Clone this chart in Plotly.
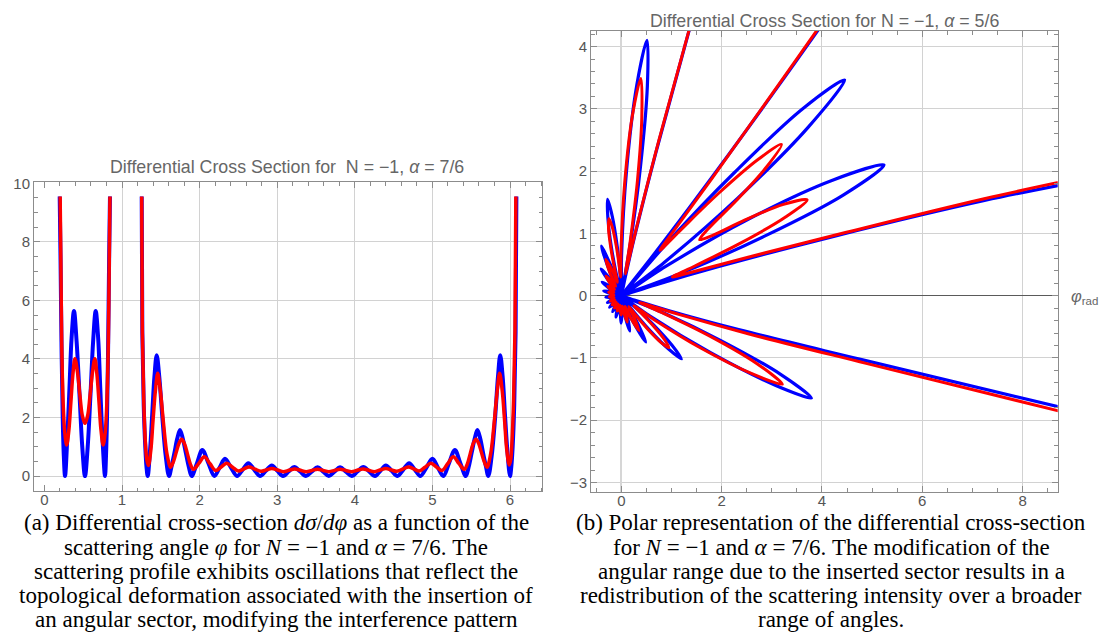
import numpy as np
import plotly.graph_objects as go

# ---------------- data (dσ/dφ vs φ) ----------------
# segment 1 (before the divergence gap) and segment 2 (after it)
blue_phi_1 = [0.197, 0.208, 0.221, 0.236, 0.250, 0.266, 0.295, 0.323, 0.350, 0.381,
              0.415, 0.452, 0.488, 0.523, 0.558, 0.594, 0.628, 0.661, 0.693, 0.720,
              0.748, 0.781, 0.794, 0.807, 0.821, 0.834, 0.845]
blue_val_1 = [9.55, 7.4, 4.4, 2.0, 0.7, 0.0, 1.3, 3.0, 4.7, 5.64,
              4.6, 2.8, 1.0, 0.0, 1.0, 2.8, 4.6, 5.64, 4.7, 3.0,
              1.3, 0.0, 0.7, 2.0, 4.4, 7.4, 9.55]

red_phi_1 = [0.203, 0.212, 0.223, 0.240, 0.262, 0.287, 0.315, 0.342, 0.368, 0.394,
             0.426, 0.458, 0.490, 0.523, 0.556, 0.588, 0.620, 0.650, 0.676, 0.703,
             0.730, 0.758, 0.784, 0.806, 0.824, 0.836, 0.845]
red_val_1 = [9.55, 7.4, 4.6, 2.6, 1.5, 1.06, 1.55, 2.55, 3.5, 4.01,
             3.55, 2.75, 2.05, 1.80, 2.05, 2.75, 3.55, 4.01, 3.5, 2.55,
             1.55, 1.06, 1.5, 2.6, 4.6, 7.4, 9.55]

blue_phi_2 = [1.254, 1.262, 1.280, 1.300, 1.316, 1.331,
              1.362, 1.389, 1.418, 1.447, 1.480, 1.520, 1.565, 1.606,
              1.640, 1.676, 1.712, 1.747, 1.783, 1.822, 1.862, 1.898,
              1.966, 2.035, 2.112, 2.190, 2.258, 2.327, 2.404, 2.482,
              2.555, 2.628, 2.703, 2.778, 2.854, 2.930, 3.003, 3.075,
              3.148, 3.220, 3.295, 3.370, 3.445, 3.520, 3.593, 3.665,
              3.738, 3.810, 3.885, 3.960, 4.035, 4.110, 4.185, 4.260,
              4.330, 4.400, 4.475, 4.550, 4.625, 4.700, 4.773, 4.845,
              4.923, 5.000, 5.070, 5.140, 5.215, 5.290, 5.360, 5.430,
              5.466, 5.506, 5.545, 5.580, 5.616, 5.652, 5.688, 5.720,
              5.762, 5.808, 5.845, 5.874, 5.905, 5.935, 5.965, 6.000,
              6.016, 6.034, 6.054, 6.072, 6.082]
blue_val_2 = [9.55, 4.9, 2.4, 1.0, 0.3, 0.0,
              0.9, 2.1, 3.4, 4.13, 3.4, 2.0, 0.65, 0.0,
              0.35, 0.8, 1.28, 1.57, 1.28, 0.8, 0.3, 0.0,
              0.44, 0.89, 0.45, 0.0, 0.29, 0.59, 0.29, 0.0,
              0.22, 0.44, 0.22, 0.0, 0.18, 0.36, 0.18, 0.0,
              0.155, 0.31, 0.155, 0.0, 0.15, 0.30, 0.15, 0.0,
              0.15, 0.30, 0.15, 0.0, 0.155, 0.31, 0.155, 0.0,
              0.18, 0.36, 0.18, 0.0, 0.22, 0.44, 0.22, 0.0,
              0.29, 0.59, 0.29, 0.0, 0.45, 0.89, 0.44, 0.0,
              0.30, 0.8, 1.28, 1.57, 1.28, 0.8, 0.35, 0.0,
              0.65, 2.0, 3.4, 4.13, 3.4, 2.1, 0.9, 0.0,
              0.3, 1.0, 2.4, 4.9, 9.55]

red_phi_2 = [1.254, 1.262, 1.280, 1.300, 1.320, 1.340,
             1.372, 1.400, 1.430, 1.460, 1.495, 1.535, 1.580, 1.627,
             1.664, 1.700, 1.735, 1.769, 1.806, 1.845, 1.882, 1.919,
             1.990, 2.060, 2.134, 2.207, 2.278, 2.349, 2.425, 2.500,
             2.568, 2.637, 2.713, 2.790, 2.860, 2.930, 3.005, 3.080,
             3.152, 3.225, 3.299, 3.373, 3.446, 3.520, 3.592, 3.665,
             3.738, 3.810, 3.884, 3.957, 4.031, 4.105, 4.178, 4.250,
             4.325, 4.400, 4.470, 4.540, 4.617, 4.693, 4.762, 4.830,
             4.905, 4.980, 5.052, 5.123, 5.196, 5.270, 5.340, 5.411,
             5.448, 5.485, 5.524, 5.561, 5.595, 5.630, 5.666, 5.703,
             5.750, 5.795, 5.835, 5.866, 5.900, 5.930, 5.958, 5.990,
             6.008, 6.026, 6.046, 6.064, 6.075]
red_val_2 = [9.55, 5.0, 2.6, 1.2, 0.55, 0.36,
             0.9, 1.9, 2.9, 3.51, 2.9, 1.8, 0.75, 0.30,
             0.5, 0.82, 1.12, 1.26, 1.1, 0.74, 0.40, 0.23,
             0.43, 0.66, 0.42, 0.19, 0.31, 0.44, 0.30, 0.17,
             0.24, 0.31, 0.235, 0.16, 0.21, 0.26, 0.205, 0.15,
             0.195, 0.24, 0.195, 0.15, 0.19, 0.235, 0.19, 0.15,
             0.19, 0.235, 0.19, 0.15, 0.195, 0.24, 0.195, 0.15,
             0.205, 0.26, 0.21, 0.16, 0.235, 0.31, 0.24, 0.17,
             0.30, 0.44, 0.31, 0.19, 0.42, 0.66, 0.43, 0.23,
             0.40, 0.74, 1.1, 1.26, 1.12, 0.82, 0.5, 0.30,
             0.75, 1.8, 2.9, 3.51, 2.9, 1.9, 0.9, 0.38,
             0.55, 1.2, 2.6, 5.0, 9.55]

left_xticks = [0, 1, 2, 3, 4, 5, 6]
left_yticks = [0, 2, 4, 6, 8, 10]
right_xticks = [0, 2, 4, 6, 8]
right_yticks = [-3, -2, -1, 0, 1, 2, 3, 4]

title_a = "Differential Cross Section for\u00a0 N = \u22121, <i>\u03b1</i> = 7/6"
title_b = "Differential Cross Section for N = \u22121, <i>\u03b1</i> = 5/6"

caption_a = [
    "(a) Differential cross-section <i>d\u03c3</i>/<i>d\u03c6</i> as a function of the",
    "scattering angle <i>\u03c6</i> for <i>N</i> = \u22121 and <i>\u03b1</i> = 7/6. The",
    "scattering profile exhibits oscillations that reflect the",
    "topological deformation associated with the insertion of",
    "an angular sector, modifying the interference pattern",
]
caption_b = [
    "(b) Polar representation of the differential cross-section",
    "for <i>N</i> = \u22121 and <i>\u03b1</i> = 7/6. The modification of the",
    "angular range due to the inserted sector results in a",
    "redistribution of the scattering intensity over a broader",
    "range of angles.",
]

# ---------------- helpers ----------------
def joined(a, b):
    return list(a) + [None] + list(b)

def to_xy(phis, vals):
    xs, ys = [], []
    for p, v in zip(phis, vals):
        if p is None:
            xs.append(None)
            ys.append(None)
        else:
            xs.append(v * np.cos(p))
            ys.append(v * np.sin(p))
    return xs, ys

W, H = 1115, 636
BLUE = "#0000ff"
RED = "#ff0000"
FRAME = "#8c8c8c"
GRID = "#d2d2d2"
TICK = "#555555"
SANS = "Liberation Sans"

bphi = joined(blue_phi_1, blue_phi_2)
bval = joined(blue_val_1, blue_val_2)
rphi = joined(red_phi_1, red_phi_2)
rval = joined(red_val_1, red_val_2)
bx, by = to_xy(bphi, bval)
rx, ry = to_xy(rphi, rval)

fig = go.Figure()
fig.add_trace(go.Scatter(x=bphi, y=bval, mode="lines", xaxis="x", yaxis="y",
                         line=dict(color=BLUE, width=4, shape="spline", smoothing=1),
                         hoverinfo="skip", showlegend=False))
fig.add_trace(go.Scatter(x=rphi, y=rval, mode="lines", xaxis="x", yaxis="y",
                         line=dict(color=RED, width=3.5, shape="spline", smoothing=1),
                         hoverinfo="skip", showlegend=False))
fig.add_trace(go.Scatter(x=bx, y=by, mode="lines", xaxis="x2", yaxis="y2",
                         line=dict(color=BLUE, width=3.2, shape="spline", smoothing=1),
                         hoverinfo="skip", showlegend=False))
fig.add_trace(go.Scatter(x=rx, y=ry, mode="lines", xaxis="x2", yaxis="y2",
                         line=dict(color=RED, width=3, shape="spline", smoothing=1),
                         hoverinfo="skip", showlegend=False))

def ax(**kw):
    base = dict(showline=True, linecolor=FRAME, linewidth=1, mirror="ticks",
                ticks="inside", tickcolor=FRAME, ticklen=6, tickwidth=1,
                showgrid=True, gridcolor=GRID, gridwidth=1,
                tickfont=dict(family=SANS, size=15, color=TICK),
                tickmode="array", fixedrange=True)
    base.update(kw)
    return base

def minor(d):
    return dict(dtick=d, tick0=0, ticks="inside", ticklen=3.5, tickcolor=FRAME,
                tickwidth=1, showgrid=False)

fig.update_layout(
    width=W, height=H,
    margin=dict(l=0, r=0, t=0, b=0),
    paper_bgcolor="white", plot_bgcolor="white",
    xaxis=ax(domain=[34 / W, 542.3 / W], range=[-0.134, 6.416], anchor="y",
             tickvals=left_xticks, minor=minor(0.2), ticklabelstandoff=-5,
             zeroline=True, zerolinecolor="rgba(0,0,0,0)"),
    yaxis=ax(domain=[1 - 489.3 / H, 1 - 176.7 / H], range=[-0.516, 10.027], anchor="x",
             tickvals=left_yticks, minor=minor(0.5),
             zeroline=True, zerolinecolor=GRID, zerolinewidth=1),
    xaxis2=ax(domain=[591 / W, 1057.7 / W], range=[-0.606, 8.70], anchor="y2",
              tickvals=right_xticks, minor=minor(0.5), ticklabelstandoff=-5,
              zeroline=True, zerolinecolor="#d6d6d6", zerolinewidth=1.8),
    yaxis2=ax(domain=[1 - 490 / H, 1 - 23.3 / H], range=[-3.15, 4.25], anchor="x2",
              tickvals=right_yticks, minor=minor(0.2),
              zeroline=True, zerolinecolor="#5a5a5a", zerolinewidth=1),
)

ann = []
ann.append(dict(text=title_a, x=287 / W, y=1 - 160.7 / H, xref="paper", yref="paper",
                xanchor="center", yanchor="middle", showarrow=False,
                font=dict(family=SANS, size=17.8, color="#666666")))
ann.append(dict(text=title_b, x=824 / W, y=1 - 12.7 / H, xref="paper", yref="paper",
                xanchor="center", yanchor="middle", showarrow=False,
                font=dict(family=SANS, size=17.8, color="#666666")))
ann.append(dict(text="<i>\u03c6</i><sub>rad</sub>", x=1069 / W, y=1 - 293 / H,
                xref="paper", yref="paper", xanchor="left", yanchor="middle",
                showarrow=False, font=dict(family=SANS, size=16.5, color="#666666")))
line_y = [521.5, 546.0, 570.5, 595.0, 619.5]
for txt, yy in zip(caption_a, line_y):
    ann.append(dict(text=txt, x=276 / W, y=1 - yy / H, xref="paper", yref="paper",
                    xanchor="center", yanchor="middle", showarrow=False,
                    font=dict(family="Liberation Serif", size=23, color="black")))
for txt, yy in zip(caption_b, line_y):
    ann.append(dict(text=txt, x=831 / W, y=1 - yy / H, xref="paper", yref="paper",
                    xanchor="center", yanchor="middle", showarrow=False,
                    font=dict(family="Liberation Serif", size=23, color="black")))
fig.update_layout(annotations=ann)

fig.write_html("out.html", config={"displayModeBar": False, "staticPlot": True},
               post_script="document.body.style.margin='0';document.documentElement.style.overflow='hidden';")
